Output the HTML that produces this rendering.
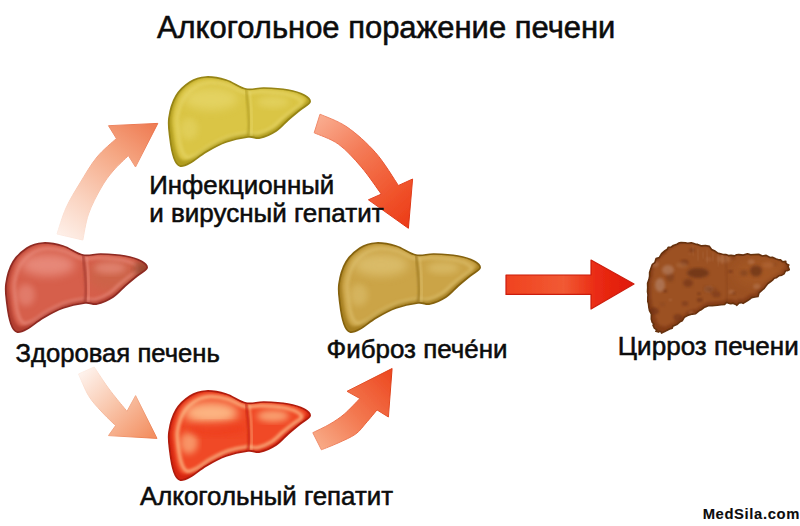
<!DOCTYPE html>
<html lang="ru"><head><meta charset="utf-8"><title>Алкогольное поражение печени</title>
<style>
html,body{margin:0;padding:0;background:#fff;}
body{width:800px;height:526px;overflow:hidden;}
svg{display:block;}
text{font-family:"Liberation Sans",Arial,sans-serif;fill:#0c0c0c;stroke:#0c0c0c;stroke-width:0.55px;}
</style></head><body>
<svg width="800" height="526" viewBox="0 0 800 526">
<defs>
<filter id="b03" x="-10%" y="-10%" width="120%" height="120%"><feGaussianBlur stdDeviation="0.35"/></filter>
<filter id="b05" x="-10%" y="-10%" width="120%" height="120%"><feGaussianBlur stdDeviation="0.5"/></filter>
<filter id="b15" x="-20%" y="-20%" width="140%" height="140%"><feGaussianBlur stdDeviation="1.5"/></filter>
<filter id="b1" x="-20%" y="-20%" width="140%" height="140%"><feGaussianBlur stdDeviation="0.9"/></filter>
<filter id="b2" x="-40%" y="-40%" width="180%" height="180%"><feGaussianBlur stdDeviation="2"/></filter>
<filter id="b3" x="-20%" y="-20%" width="140%" height="140%"><feGaussianBlur stdDeviation="3"/></filter>
<filter id="b6" x="-50%" y="-50%" width="200%" height="200%"><feGaussianBlur stdDeviation="5"/></filter>
<filter id="b8" x="-50%" y="-50%" width="200%" height="200%"><feGaussianBlur stdDeviation="8"/></filter>
<clipPath id="lc"><path d="M0.0,41.0 C1.0,34.0 3.5,25.0 7.0,19.0 C10.5,13.0 16.0,8.2 21.0,5.0 C26.0,1.8 31.0,0.3 37.0,0.0 C43.0,-0.3 50.3,1.0 57.0,3.0 C63.7,5.0 70.7,10.7 77.0,12.0 C83.3,13.3 88.0,10.8 95.0,11.0 C102.0,11.2 112.3,11.8 119.0,13.0 C125.7,14.2 131.3,16.0 135.0,18.0 C138.7,20.0 141.7,22.5 141.0,25.0 C140.3,27.5 134.7,30.0 131.0,33.0 C127.3,36.0 123.0,39.5 119.0,43.0 C115.0,46.5 111.7,51.0 107.0,54.0 C102.3,57.0 95.7,60.0 91.0,61.0 C86.3,62.0 84.7,59.3 79.0,60.0 C73.3,60.7 64.0,62.5 57.0,65.0 C50.0,67.5 43.0,71.5 37.0,75.0 C31.0,78.5 25.3,83.7 21.0,86.0 C16.7,88.3 13.7,89.8 11.0,89.0 C8.3,88.2 6.7,85.7 5.0,81.0 C3.3,76.3 1.8,67.7 1.0,61.0 C0.2,54.3 -1.0,48.0 0.0,41.0Z"/></clipPath>
<clipPath id="cc"><path d="M-0.4,40.2 L1.0,36.4 L1.6,33.2 L1.6,29.6 L2.8,25.7 L4.4,21.3 L6.8,19.7 L8.1,15.5 L11.4,14.4 L13.6,10.7 L17.0,7.7 L19.3,6.3 L20.2,4.2 L23.1,4.2 L25.3,2.5 L28.9,1.2 L31.4,-0.2 L33.1,-0.4 L37.4,-0.2 L39.7,0.2 L43.3,-0.3 L47.4,1.1 L49.6,1.4 L53.7,2.9 L57.5,2.5 L61.4,3.4 L63.6,6.5 L66.4,7.7 L69.5,9.9 L74.4,11.2 L77.8,11.6 L80.5,12.6 L83.1,12.2 L86.5,12.9 L88.6,11.8 L90.7,11.6 L95.3,12.1 L99.5,10.7 L102.6,11.7 L106.1,11.5 L110.6,11.2 L114.4,13.0 L118.2,12.4 L122.0,14.5 L124.4,14.3 L128.2,16.0 L131.4,16.9 L132.5,16.8 L134.7,18.8 L137.8,18.3 L137.6,19.6 L139.0,21.3 L140.8,22.0 L140.0,23.6 L140.7,25.1 L141.3,26.7 L139.0,27.8 L137.5,27.8 L136.0,30.8 L133.8,32.2 L130.8,32.8 L128.2,34.8 L126.2,35.2 L124.5,37.1 L122.7,38.5 L119.9,40.5 L118.1,42.7 L116.0,45.6 L115.4,46.0 L112.7,48.4 L111.0,49.8 L110.0,53.5 L106.9,54.0 L103.6,54.6 L101.5,56.4 L99.7,57.5 L95.1,60.4 L93.5,59.6 L91.1,60.0 L88.9,62.3 L87.9,61.5 L84.8,60.3 L82.9,60.8 L81.6,60.5 L78.6,59.4 L76.6,61.5 L73.1,61.7 L69.2,62.3 L64.0,62.8 L60.3,62.8 L56.0,64.5 L53.0,66.8 L51.0,67.8 L47.6,70.7 L44.3,71.1 L39.5,72.6 L36.3,74.3 L34.3,77.7 L31.9,78.8 L28.7,81.6 L24.8,83.2 L24.2,85.2 L21.6,86.0 L18.2,87.7 L16.7,88.7 L16.4,88.5 L13.6,90.1 L12.9,88.5 L10.2,88.2 L10.6,89.1 L7.9,88.3 L8.7,86.8 L6.4,85.1 L5.0,82.1 L6.0,81.3 L4.2,79.3 L3.3,76.0 L3.4,71.1 L1.5,67.7 L0.9,64.7 L0.5,60.8 L-0.2,58.6 L-0.2,54.3 L-0.0,52.0 L-0.5,48.7 L-0.3,44.5Z"/></clipPath>
<linearGradient id="a1" gradientUnits="userSpaceOnUse" x1="65" y1="240" x2="150" y2="125"><stop offset="0" stop-color="#fef0e9"/><stop offset="0.3" stop-color="#fad3c0"/><stop offset="0.7" stop-color="#f5a682"/><stop offset="1" stop-color="#ef7e56"/></linearGradient><linearGradient id="a1s" gradientUnits="userSpaceOnUse" x1="65" y1="240" x2="150" y2="125"><stop offset="0" stop-color="#fdece4"/><stop offset="0.4" stop-color="#f7c4ac"/><stop offset="1" stop-color="#ea7048"/></linearGradient><linearGradient id="a2" gradientUnits="userSpaceOnUse" x1="318" y1="120" x2="408" y2="225"><stop offset="0" stop-color="#f9ab8e"/><stop offset="0.35" stop-color="#f47c58"/><stop offset="0.75" stop-color="#f0542c"/><stop offset="1" stop-color="#ec3c18"/></linearGradient><linearGradient id="a2s" gradientUnits="userSpaceOnUse" x1="318" y1="120" x2="408" y2="225"><stop offset="0" stop-color="#f08c6c"/><stop offset="0.5" stop-color="#e85430"/><stop offset="1" stop-color="#dc3010"/></linearGradient><linearGradient id="a3" gradientUnits="userSpaceOnUse" x1="85" y1="370" x2="150" y2="437"><stop offset="0" stop-color="#fef2ec"/><stop offset="0.45" stop-color="#f9c8ae"/><stop offset="1" stop-color="#f39062"/></linearGradient><linearGradient id="a3s" gradientUnits="userSpaceOnUse" x1="85" y1="370" x2="150" y2="437"><stop offset="0" stop-color="#fdeee6"/><stop offset="0.5" stop-color="#f5b698"/><stop offset="1" stop-color="#ec8052"/></linearGradient><linearGradient id="a4" gradientUnits="userSpaceOnUse" x1="315" y1="442" x2="390" y2="372"><stop offset="0" stop-color="#f8aa86"/><stop offset="0.45" stop-color="#f37a52"/><stop offset="1" stop-color="#ed4a22"/></linearGradient><linearGradient id="a4s" gradientUnits="userSpaceOnUse" x1="315" y1="442" x2="390" y2="372"><stop offset="0" stop-color="#f09070"/><stop offset="0.5" stop-color="#e86038"/><stop offset="1" stop-color="#dc3a14"/></linearGradient><linearGradient id="a5" gradientUnits="userSpaceOnUse" x1="506" y1="0" x2="634" y2="0"><stop offset="0" stop-color="#f0421f"/><stop offset="0.45" stop-color="#f15a34"/><stop offset="0.7" stop-color="#ea2c14"/><stop offset="1" stop-color="#e01808"/></linearGradient>
</defs>
<rect width="800" height="526" fill="#ffffff"/>
<path d="M57.0,234.0 C58.5,229.7 62.2,216.5 66.0,208.0 C69.8,199.5 74.8,191.5 80.0,183.0 C85.2,174.5 90.9,164.4 97.0,157.0 C103.1,149.6 113.2,141.6 116.4,138.5 L108.5,125.7 L157.8,123.4 L135.5,167.0 L128.4,155.6 C125.8,158.2 117.6,165.6 113.0,171.0 C108.4,176.4 105.1,180.8 101.0,188.0 C96.9,195.2 91.5,205.3 88.5,214.0 C85.5,222.7 83.8,235.7 82.8,240.0Z" fill="url(#a1)" stroke="url(#a1s)" stroke-width="1" stroke-linejoin="round" filter="url(#b05)"/><path d="M320.0,114.2 C324.5,116.3 337.7,120.6 347.0,127.0 C356.3,133.4 367.0,142.9 375.6,152.7 C384.2,162.4 394.6,180.0 398.4,185.5 L412.6,179.0 L408.4,228.3 L368.4,199.8 L381.3,194.1 C378.0,189.6 368.4,175.3 361.3,167.0 C354.2,158.7 346.4,149.9 338.5,144.2 C330.6,138.5 318.2,134.7 314.2,132.8Z" fill="url(#a2)" stroke="url(#a2s)" stroke-width="1" stroke-linejoin="round" filter="url(#b05)"/><path d="M94.2,367.0 C96.1,369.9 102.0,379.0 105.6,384.2 C109.2,389.4 112.4,393.5 116.0,398.0 C119.6,402.5 125.2,409.1 127.0,411.3 L135.6,395.6 L157.0,438.4 L108.5,435.6 L115.6,425.6 C113.2,423.2 105.5,416.0 101.0,411.0 C96.5,406.0 92.2,401.8 88.5,395.6 C84.8,389.4 80.2,377.6 78.5,374.0Z" fill="url(#a3)" stroke="url(#a3s)" stroke-width="1" stroke-linejoin="round" filter="url(#b05)"/><path d="M312.8,432.7 C315.7,431.2 324.8,427.1 330.0,424.0 C335.2,420.9 339.2,418.4 344.2,414.2 C349.2,409.9 357.3,401.1 359.9,398.5 L347.0,391.3 L392.1,368.5 L388.4,417.0 L377.0,409.9 C375.2,412.1 369.6,419.0 366.0,423.0 C362.4,427.0 360.3,430.8 355.6,434.1 C350.9,437.4 343.7,440.4 338.0,443.0 C332.3,445.6 324.2,448.7 321.4,449.8Z" fill="url(#a4)" stroke="url(#a4s)" stroke-width="1" stroke-linejoin="round" filter="url(#b05)"/><path d="M506,275 L591,275 L591,260 L634,284 L591,309 L591,294.4 L506,294.4Z" fill="url(#a5)" stroke="#cc1c0c" stroke-width="1.2" stroke-linejoin="round" filter="url(#b05)"/><g transform="translate(169,77)"><path d="M0.0,41.0 C1.0,34.0 3.5,25.0 7.0,19.0 C10.5,13.0 16.0,8.2 21.0,5.0 C26.0,1.8 31.0,0.3 37.0,0.0 C43.0,-0.3 50.3,1.0 57.0,3.0 C63.7,5.0 70.7,10.7 77.0,12.0 C83.3,13.3 88.0,10.8 95.0,11.0 C102.0,11.2 112.3,11.8 119.0,13.0 C125.7,14.2 131.3,16.0 135.0,18.0 C138.7,20.0 141.7,22.5 141.0,25.0 C140.3,27.5 134.7,30.0 131.0,33.0 C127.3,36.0 123.0,39.5 119.0,43.0 C115.0,46.5 111.7,51.0 107.0,54.0 C102.3,57.0 95.7,60.0 91.0,61.0 C86.3,62.0 84.7,59.3 79.0,60.0 C73.3,60.7 64.0,62.5 57.0,65.0 C50.0,67.5 43.0,71.5 37.0,75.0 C31.0,78.5 25.3,83.7 21.0,86.0 C16.7,88.3 13.7,89.8 11.0,89.0 C8.3,88.2 6.7,85.7 5.0,81.0 C3.3,76.3 1.8,67.7 1.0,61.0 C0.2,54.3 -1.0,48.0 0.0,41.0Z" fill="#b09c1e"/><g clip-path="url(#lc)"><path d="M0.0,41.0 C1.0,34.0 3.5,25.0 7.0,19.0 C10.5,13.0 16.0,8.2 21.0,5.0 C26.0,1.8 31.0,0.3 37.0,0.0 C43.0,-0.3 50.3,1.0 57.0,3.0 C63.7,5.0 70.7,10.7 77.0,12.0 C83.3,13.3 88.0,10.8 95.0,11.0 C102.0,11.2 112.3,11.8 119.0,13.0 C125.7,14.2 131.3,16.0 135.0,18.0 C138.7,20.0 141.7,22.5 141.0,25.0 C140.3,27.5 134.7,30.0 131.0,33.0 C127.3,36.0 123.0,39.5 119.0,43.0 C115.0,46.5 111.7,51.0 107.0,54.0 C102.3,57.0 95.7,60.0 91.0,61.0 C86.3,62.0 84.7,59.3 79.0,60.0 C73.3,60.7 64.0,62.5 57.0,65.0 C50.0,67.5 43.0,71.5 37.0,75.0 C31.0,78.5 25.3,83.7 21.0,86.0 C16.7,88.3 13.7,89.8 11.0,89.0 C8.3,88.2 6.7,85.7 5.0,81.0 C3.3,76.3 1.8,67.7 1.0,61.0 C0.2,54.3 -1.0,48.0 0.0,41.0Z" fill="#dac544" transform="translate(3.2,0.5) scale(0.955,0.93)" filter="url(#b15)"/><path d="M0.0,41.0 C1.0,34.0 3.5,25.0 7.0,19.0 C10.5,13.0 16.0,8.2 21.0,5.0 C26.0,1.8 31.0,0.3 37.0,0.0 C43.0,-0.3 50.3,1.0 57.0,3.0 C63.7,5.0 70.7,10.7 77.0,12.0 C83.3,13.3 88.0,10.8 95.0,11.0 C102.0,11.2 112.3,11.8 119.0,13.0 C125.7,14.2 131.3,16.0 135.0,18.0 C138.7,20.0 141.7,22.5 141.0,25.0 C140.3,27.5 134.7,30.0 131.0,33.0 C127.3,36.0 123.0,39.5 119.0,43.0 C115.0,46.5 111.7,51.0 107.0,54.0 C102.3,57.0 95.7,60.0 91.0,61.0 C86.3,62.0 84.7,59.3 79.0,60.0 C73.3,60.7 64.0,62.5 57.0,65.0 C50.0,67.5 43.0,71.5 37.0,75.0 C31.0,78.5 25.3,83.7 21.0,86.0 C16.7,88.3 13.7,89.8 11.0,89.0 C8.3,88.2 6.7,85.7 5.0,81.0 C3.3,76.3 1.8,67.7 1.0,61.0 C0.2,54.3 -1.0,48.0 0.0,41.0Z" fill="none" stroke="#eadb74" stroke-width="4" transform="translate(8.5,5.5) scale(0.88,0.84)" filter="url(#b2)" opacity="0.5"/><ellipse cx="42" cy="22" rx="27" ry="11" fill="#eadb74" filter="url(#b6)" opacity="0.6"/><ellipse cx="20" cy="52" rx="9" ry="11" fill="#eadb74" filter="url(#b3)" opacity="0.42"/><ellipse cx="104" cy="25" rx="16" ry="6" fill="#eadb74" filter="url(#b3)" opacity="0.48"/><path d="M77.0,12.0 C77.3,15.0 78.5,24.0 79.0,30.0 C79.5,36.0 80.0,43.0 80.0,48.0 C80.0,53.0 79.2,58.0 79.0,60.0" fill="none" stroke="#eadb74" stroke-width="2.5" transform="translate(3,0)" filter="url(#b1)" opacity="0.5"/><path d="M77.0,12.0 C77.3,15.0 78.5,24.0 79.0,30.0 C79.5,36.0 80.0,43.0 80.0,48.0 C80.0,53.0 79.2,58.0 79.0,60.0" fill="none" stroke="#a8941e" stroke-width="2" filter="url(#b1)" opacity="0.8"/></g><path d="M0.0,41.0 C1.0,34.0 3.5,25.0 7.0,19.0 C10.5,13.0 16.0,8.2 21.0,5.0 C26.0,1.8 31.0,0.3 37.0,0.0 C43.0,-0.3 50.3,1.0 57.0,3.0 C63.7,5.0 70.7,10.7 77.0,12.0 C83.3,13.3 88.0,10.8 95.0,11.0 C102.0,11.2 112.3,11.8 119.0,13.0 C125.7,14.2 131.3,16.0 135.0,18.0 C138.7,20.0 141.7,22.5 141.0,25.0 C140.3,27.5 134.7,30.0 131.0,33.0 C127.3,36.0 123.0,39.5 119.0,43.0 C115.0,46.5 111.7,51.0 107.0,54.0 C102.3,57.0 95.7,60.0 91.0,61.0 C86.3,62.0 84.7,59.3 79.0,60.0 C73.3,60.7 64.0,62.5 57.0,65.0 C50.0,67.5 43.0,71.5 37.0,75.0 C31.0,78.5 25.3,83.7 21.0,86.0 C16.7,88.3 13.7,89.8 11.0,89.0 C8.3,88.2 6.7,85.7 5.0,81.0 C3.3,76.3 1.8,67.7 1.0,61.0 C0.2,54.3 -1.0,48.0 0.0,41.0Z" fill="none" stroke="#968414" stroke-width="1.7" filter="url(#b03)"/></g><g transform="translate(6,243)"><path d="M0.0,41.0 C1.0,34.0 3.5,25.0 7.0,19.0 C10.5,13.0 16.0,8.2 21.0,5.0 C26.0,1.8 31.0,0.3 37.0,0.0 C43.0,-0.3 50.3,1.0 57.0,3.0 C63.7,5.0 70.7,10.7 77.0,12.0 C83.3,13.3 88.0,10.8 95.0,11.0 C102.0,11.2 112.3,11.8 119.0,13.0 C125.7,14.2 131.3,16.0 135.0,18.0 C138.7,20.0 141.7,22.5 141.0,25.0 C140.3,27.5 134.7,30.0 131.0,33.0 C127.3,36.0 123.0,39.5 119.0,43.0 C115.0,46.5 111.7,51.0 107.0,54.0 C102.3,57.0 95.7,60.0 91.0,61.0 C86.3,62.0 84.7,59.3 79.0,60.0 C73.3,60.7 64.0,62.5 57.0,65.0 C50.0,67.5 43.0,71.5 37.0,75.0 C31.0,78.5 25.3,83.7 21.0,86.0 C16.7,88.3 13.7,89.8 11.0,89.0 C8.3,88.2 6.7,85.7 5.0,81.0 C3.3,76.3 1.8,67.7 1.0,61.0 C0.2,54.3 -1.0,48.0 0.0,41.0Z" fill="#b23e30"/><g clip-path="url(#lc)"><path d="M0.0,41.0 C1.0,34.0 3.5,25.0 7.0,19.0 C10.5,13.0 16.0,8.2 21.0,5.0 C26.0,1.8 31.0,0.3 37.0,0.0 C43.0,-0.3 50.3,1.0 57.0,3.0 C63.7,5.0 70.7,10.7 77.0,12.0 C83.3,13.3 88.0,10.8 95.0,11.0 C102.0,11.2 112.3,11.8 119.0,13.0 C125.7,14.2 131.3,16.0 135.0,18.0 C138.7,20.0 141.7,22.5 141.0,25.0 C140.3,27.5 134.7,30.0 131.0,33.0 C127.3,36.0 123.0,39.5 119.0,43.0 C115.0,46.5 111.7,51.0 107.0,54.0 C102.3,57.0 95.7,60.0 91.0,61.0 C86.3,62.0 84.7,59.3 79.0,60.0 C73.3,60.7 64.0,62.5 57.0,65.0 C50.0,67.5 43.0,71.5 37.0,75.0 C31.0,78.5 25.3,83.7 21.0,86.0 C16.7,88.3 13.7,89.8 11.0,89.0 C8.3,88.2 6.7,85.7 5.0,81.0 C3.3,76.3 1.8,67.7 1.0,61.0 C0.2,54.3 -1.0,48.0 0.0,41.0Z" fill="#d65e4c" transform="translate(3.2,0.5) scale(0.955,0.93)" filter="url(#b15)"/><ellipse cx="108" cy="32" rx="26" ry="16" fill="#c66646" filter="url(#b6)" opacity="0.55"/><path d="M0.0,41.0 C1.0,34.0 3.5,25.0 7.0,19.0 C10.5,13.0 16.0,8.2 21.0,5.0 C26.0,1.8 31.0,0.3 37.0,0.0 C43.0,-0.3 50.3,1.0 57.0,3.0 C63.7,5.0 70.7,10.7 77.0,12.0 C83.3,13.3 88.0,10.8 95.0,11.0 C102.0,11.2 112.3,11.8 119.0,13.0 C125.7,14.2 131.3,16.0 135.0,18.0 C138.7,20.0 141.7,22.5 141.0,25.0 C140.3,27.5 134.7,30.0 131.0,33.0 C127.3,36.0 123.0,39.5 119.0,43.0 C115.0,46.5 111.7,51.0 107.0,54.0 C102.3,57.0 95.7,60.0 91.0,61.0 C86.3,62.0 84.7,59.3 79.0,60.0 C73.3,60.7 64.0,62.5 57.0,65.0 C50.0,67.5 43.0,71.5 37.0,75.0 C31.0,78.5 25.3,83.7 21.0,86.0 C16.7,88.3 13.7,89.8 11.0,89.0 C8.3,88.2 6.7,85.7 5.0,81.0 C3.3,76.3 1.8,67.7 1.0,61.0 C0.2,54.3 -1.0,48.0 0.0,41.0Z" fill="none" stroke="#ee9a8c" stroke-width="4" transform="translate(8.5,5.5) scale(0.88,0.84)" filter="url(#b2)" opacity="0.5"/><ellipse cx="42" cy="22" rx="27" ry="11" fill="#ee9a8c" filter="url(#b6)" opacity="0.7"/><ellipse cx="20" cy="52" rx="9" ry="11" fill="#ee9a8c" filter="url(#b3)" opacity="0.49"/><ellipse cx="104" cy="25" rx="16" ry="6" fill="#ee9a8c" filter="url(#b3)" opacity="0.56"/><ellipse cx="136" cy="26" rx="8" ry="8" fill="#96462e" filter="url(#b3)" opacity="0.85"/><path d="M77.0,12.0 C77.3,15.0 78.5,24.0 79.0,30.0 C79.5,36.0 80.0,43.0 80.0,48.0 C80.0,53.0 79.2,58.0 79.0,60.0" fill="none" stroke="#ee9a8c" stroke-width="2.5" transform="translate(3,0)" filter="url(#b1)" opacity="0.5"/><path d="M77.0,12.0 C77.3,15.0 78.5,24.0 79.0,30.0 C79.5,36.0 80.0,43.0 80.0,48.0 C80.0,53.0 79.2,58.0 79.0,60.0" fill="none" stroke="#a2382e" stroke-width="2" filter="url(#b1)" opacity="1.0"/></g><path d="M0.0,41.0 C1.0,34.0 3.5,25.0 7.0,19.0 C10.5,13.0 16.0,8.2 21.0,5.0 C26.0,1.8 31.0,0.3 37.0,0.0 C43.0,-0.3 50.3,1.0 57.0,3.0 C63.7,5.0 70.7,10.7 77.0,12.0 C83.3,13.3 88.0,10.8 95.0,11.0 C102.0,11.2 112.3,11.8 119.0,13.0 C125.7,14.2 131.3,16.0 135.0,18.0 C138.7,20.0 141.7,22.5 141.0,25.0 C140.3,27.5 134.7,30.0 131.0,33.0 C127.3,36.0 123.0,39.5 119.0,43.0 C115.0,46.5 111.7,51.0 107.0,54.0 C102.3,57.0 95.7,60.0 91.0,61.0 C86.3,62.0 84.7,59.3 79.0,60.0 C73.3,60.7 64.0,62.5 57.0,65.0 C50.0,67.5 43.0,71.5 37.0,75.0 C31.0,78.5 25.3,83.7 21.0,86.0 C16.7,88.3 13.7,89.8 11.0,89.0 C8.3,88.2 6.7,85.7 5.0,81.0 C3.3,76.3 1.8,67.7 1.0,61.0 C0.2,54.3 -1.0,48.0 0.0,41.0Z" fill="none" stroke="#8e2a22" stroke-width="1.7" filter="url(#b03)"/></g><g transform="translate(339,243)"><path d="M0.0,41.0 C1.0,34.0 3.5,25.0 7.0,19.0 C10.5,13.0 16.0,8.2 21.0,5.0 C26.0,1.8 31.0,0.3 37.0,0.0 C43.0,-0.3 50.3,1.0 57.0,3.0 C63.7,5.0 70.7,10.7 77.0,12.0 C83.3,13.3 88.0,10.8 95.0,11.0 C102.0,11.2 112.3,11.8 119.0,13.0 C125.7,14.2 131.3,16.0 135.0,18.0 C138.7,20.0 141.7,22.5 141.0,25.0 C140.3,27.5 134.7,30.0 131.0,33.0 C127.3,36.0 123.0,39.5 119.0,43.0 C115.0,46.5 111.7,51.0 107.0,54.0 C102.3,57.0 95.7,60.0 91.0,61.0 C86.3,62.0 84.7,59.3 79.0,60.0 C73.3,60.7 64.0,62.5 57.0,65.0 C50.0,67.5 43.0,71.5 37.0,75.0 C31.0,78.5 25.3,83.7 21.0,86.0 C16.7,88.3 13.7,89.8 11.0,89.0 C8.3,88.2 6.7,85.7 5.0,81.0 C3.3,76.3 1.8,67.7 1.0,61.0 C0.2,54.3 -1.0,48.0 0.0,41.0Z" fill="#a57e20"/><g clip-path="url(#lc)"><path d="M0.0,41.0 C1.0,34.0 3.5,25.0 7.0,19.0 C10.5,13.0 16.0,8.2 21.0,5.0 C26.0,1.8 31.0,0.3 37.0,0.0 C43.0,-0.3 50.3,1.0 57.0,3.0 C63.7,5.0 70.7,10.7 77.0,12.0 C83.3,13.3 88.0,10.8 95.0,11.0 C102.0,11.2 112.3,11.8 119.0,13.0 C125.7,14.2 131.3,16.0 135.0,18.0 C138.7,20.0 141.7,22.5 141.0,25.0 C140.3,27.5 134.7,30.0 131.0,33.0 C127.3,36.0 123.0,39.5 119.0,43.0 C115.0,46.5 111.7,51.0 107.0,54.0 C102.3,57.0 95.7,60.0 91.0,61.0 C86.3,62.0 84.7,59.3 79.0,60.0 C73.3,60.7 64.0,62.5 57.0,65.0 C50.0,67.5 43.0,71.5 37.0,75.0 C31.0,78.5 25.3,83.7 21.0,86.0 C16.7,88.3 13.7,89.8 11.0,89.0 C8.3,88.2 6.7,85.7 5.0,81.0 C3.3,76.3 1.8,67.7 1.0,61.0 C0.2,54.3 -1.0,48.0 0.0,41.0Z" fill="#cba446" transform="translate(3.2,0.5) scale(0.955,0.93)" filter="url(#b15)"/><path d="M0.0,41.0 C1.0,34.0 3.5,25.0 7.0,19.0 C10.5,13.0 16.0,8.2 21.0,5.0 C26.0,1.8 31.0,0.3 37.0,0.0 C43.0,-0.3 50.3,1.0 57.0,3.0 C63.7,5.0 70.7,10.7 77.0,12.0 C83.3,13.3 88.0,10.8 95.0,11.0 C102.0,11.2 112.3,11.8 119.0,13.0 C125.7,14.2 131.3,16.0 135.0,18.0 C138.7,20.0 141.7,22.5 141.0,25.0 C140.3,27.5 134.7,30.0 131.0,33.0 C127.3,36.0 123.0,39.5 119.0,43.0 C115.0,46.5 111.7,51.0 107.0,54.0 C102.3,57.0 95.7,60.0 91.0,61.0 C86.3,62.0 84.7,59.3 79.0,60.0 C73.3,60.7 64.0,62.5 57.0,65.0 C50.0,67.5 43.0,71.5 37.0,75.0 C31.0,78.5 25.3,83.7 21.0,86.0 C16.7,88.3 13.7,89.8 11.0,89.0 C8.3,88.2 6.7,85.7 5.0,81.0 C3.3,76.3 1.8,67.7 1.0,61.0 C0.2,54.3 -1.0,48.0 0.0,41.0Z" fill="none" stroke="#e2c87a" stroke-width="4" transform="translate(8.5,5.5) scale(0.88,0.84)" filter="url(#b2)" opacity="0.5"/><ellipse cx="42" cy="22" rx="27" ry="11" fill="#e2c87a" filter="url(#b6)" opacity="0.65"/><ellipse cx="20" cy="52" rx="9" ry="11" fill="#e2c87a" filter="url(#b3)" opacity="0.45"/><ellipse cx="104" cy="25" rx="16" ry="6" fill="#e2c87a" filter="url(#b3)" opacity="0.52"/><path d="M77.0,12.0 C77.3,15.0 78.5,24.0 79.0,30.0 C79.5,36.0 80.0,43.0 80.0,48.0 C80.0,53.0 79.2,58.0 79.0,60.0" fill="none" stroke="#e2c87a" stroke-width="2.5" transform="translate(3,0)" filter="url(#b1)" opacity="0.5"/><path d="M77.0,12.0 C77.3,15.0 78.5,24.0 79.0,30.0 C79.5,36.0 80.0,43.0 80.0,48.0 C80.0,53.0 79.2,58.0 79.0,60.0" fill="none" stroke="#9c7822" stroke-width="2" filter="url(#b1)" opacity="1.0"/></g><path d="M0.0,41.0 C1.0,34.0 3.5,25.0 7.0,19.0 C10.5,13.0 16.0,8.2 21.0,5.0 C26.0,1.8 31.0,0.3 37.0,0.0 C43.0,-0.3 50.3,1.0 57.0,3.0 C63.7,5.0 70.7,10.7 77.0,12.0 C83.3,13.3 88.0,10.8 95.0,11.0 C102.0,11.2 112.3,11.8 119.0,13.0 C125.7,14.2 131.3,16.0 135.0,18.0 C138.7,20.0 141.7,22.5 141.0,25.0 C140.3,27.5 134.7,30.0 131.0,33.0 C127.3,36.0 123.0,39.5 119.0,43.0 C115.0,46.5 111.7,51.0 107.0,54.0 C102.3,57.0 95.7,60.0 91.0,61.0 C86.3,62.0 84.7,59.3 79.0,60.0 C73.3,60.7 64.0,62.5 57.0,65.0 C50.0,67.5 43.0,71.5 37.0,75.0 C31.0,78.5 25.3,83.7 21.0,86.0 C16.7,88.3 13.7,89.8 11.0,89.0 C8.3,88.2 6.7,85.7 5.0,81.0 C3.3,76.3 1.8,67.7 1.0,61.0 C0.2,54.3 -1.0,48.0 0.0,41.0Z" fill="none" stroke="#85620f" stroke-width="1.7" filter="url(#b03)"/></g><g transform="translate(169,391)"><path d="M0.0,41.0 C1.0,34.0 3.5,25.0 7.0,19.0 C10.5,13.0 16.0,8.2 21.0,5.0 C26.0,1.8 31.0,0.3 37.0,0.0 C43.0,-0.3 50.3,1.0 57.0,3.0 C63.7,5.0 70.7,10.7 77.0,12.0 C83.3,13.3 88.0,10.8 95.0,11.0 C102.0,11.2 112.3,11.8 119.0,13.0 C125.7,14.2 131.3,16.0 135.0,18.0 C138.7,20.0 141.7,22.5 141.0,25.0 C140.3,27.5 134.7,30.0 131.0,33.0 C127.3,36.0 123.0,39.5 119.0,43.0 C115.0,46.5 111.7,51.0 107.0,54.0 C102.3,57.0 95.7,60.0 91.0,61.0 C86.3,62.0 84.7,59.3 79.0,60.0 C73.3,60.7 64.0,62.5 57.0,65.0 C50.0,67.5 43.0,71.5 37.0,75.0 C31.0,78.5 25.3,83.7 21.0,86.0 C16.7,88.3 13.7,89.8 11.0,89.0 C8.3,88.2 6.7,85.7 5.0,81.0 C3.3,76.3 1.8,67.7 1.0,61.0 C0.2,54.3 -1.0,48.0 0.0,41.0Z" fill="#d42410"/><g clip-path="url(#lc)"><path d="M0.0,41.0 C1.0,34.0 3.5,25.0 7.0,19.0 C10.5,13.0 16.0,8.2 21.0,5.0 C26.0,1.8 31.0,0.3 37.0,0.0 C43.0,-0.3 50.3,1.0 57.0,3.0 C63.7,5.0 70.7,10.7 77.0,12.0 C83.3,13.3 88.0,10.8 95.0,11.0 C102.0,11.2 112.3,11.8 119.0,13.0 C125.7,14.2 131.3,16.0 135.0,18.0 C138.7,20.0 141.7,22.5 141.0,25.0 C140.3,27.5 134.7,30.0 131.0,33.0 C127.3,36.0 123.0,39.5 119.0,43.0 C115.0,46.5 111.7,51.0 107.0,54.0 C102.3,57.0 95.7,60.0 91.0,61.0 C86.3,62.0 84.7,59.3 79.0,60.0 C73.3,60.7 64.0,62.5 57.0,65.0 C50.0,67.5 43.0,71.5 37.0,75.0 C31.0,78.5 25.3,83.7 21.0,86.0 C16.7,88.3 13.7,89.8 11.0,89.0 C8.3,88.2 6.7,85.7 5.0,81.0 C3.3,76.3 1.8,67.7 1.0,61.0 C0.2,54.3 -1.0,48.0 0.0,41.0Z" fill="#f04a26" transform="translate(3.2,0.5) scale(0.955,0.93)" filter="url(#b15)"/><path d="M0.0,41.0 C1.0,34.0 3.5,25.0 7.0,19.0 C10.5,13.0 16.0,8.2 21.0,5.0 C26.0,1.8 31.0,0.3 37.0,0.0 C43.0,-0.3 50.3,1.0 57.0,3.0 C63.7,5.0 70.7,10.7 77.0,12.0 C83.3,13.3 88.0,10.8 95.0,11.0 C102.0,11.2 112.3,11.8 119.0,13.0 C125.7,14.2 131.3,16.0 135.0,18.0 C138.7,20.0 141.7,22.5 141.0,25.0 C140.3,27.5 134.7,30.0 131.0,33.0 C127.3,36.0 123.0,39.5 119.0,43.0 C115.0,46.5 111.7,51.0 107.0,54.0 C102.3,57.0 95.7,60.0 91.0,61.0 C86.3,62.0 84.7,59.3 79.0,60.0 C73.3,60.7 64.0,62.5 57.0,65.0 C50.0,67.5 43.0,71.5 37.0,75.0 C31.0,78.5 25.3,83.7 21.0,86.0 C16.7,88.3 13.7,89.8 11.0,89.0 C8.3,88.2 6.7,85.7 5.0,81.0 C3.3,76.3 1.8,67.7 1.0,61.0 C0.2,54.3 -1.0,48.0 0.0,41.0Z" fill="none" stroke="#fdc08c" stroke-width="4" transform="translate(8.5,5.5) scale(0.88,0.84)" filter="url(#b2)" opacity="0.8"/><ellipse cx="42" cy="22" rx="27" ry="11" fill="#fdc08c" filter="url(#b6)" opacity="0.9"/><ellipse cx="20" cy="52" rx="9" ry="11" fill="#fdc08c" filter="url(#b3)" opacity="0.63"/><ellipse cx="104" cy="25" rx="16" ry="6" fill="#fdc08c" filter="url(#b3)" opacity="0.72"/><ellipse cx="48" cy="38" rx="30" ry="7" fill="#ee3c1c" filter="url(#b3)" opacity="0.7"/><path d="M77.0,12.0 C77.3,15.0 78.5,24.0 79.0,30.0 C79.5,36.0 80.0,43.0 80.0,48.0 C80.0,53.0 79.2,58.0 79.0,60.0" fill="none" stroke="#fdc08c" stroke-width="2.5" transform="translate(3,0)" filter="url(#b1)" opacity="0.5"/><path d="M77.0,12.0 C77.3,15.0 78.5,24.0 79.0,30.0 C79.5,36.0 80.0,43.0 80.0,48.0 C80.0,53.0 79.2,58.0 79.0,60.0" fill="none" stroke="#c42410" stroke-width="2" filter="url(#b1)" opacity="1.0"/></g><path d="M0.0,41.0 C1.0,34.0 3.5,25.0 7.0,19.0 C10.5,13.0 16.0,8.2 21.0,5.0 C26.0,1.8 31.0,0.3 37.0,0.0 C43.0,-0.3 50.3,1.0 57.0,3.0 C63.7,5.0 70.7,10.7 77.0,12.0 C83.3,13.3 88.0,10.8 95.0,11.0 C102.0,11.2 112.3,11.8 119.0,13.0 C125.7,14.2 131.3,16.0 135.0,18.0 C138.7,20.0 141.7,22.5 141.0,25.0 C140.3,27.5 134.7,30.0 131.0,33.0 C127.3,36.0 123.0,39.5 119.0,43.0 C115.0,46.5 111.7,51.0 107.0,54.0 C102.3,57.0 95.7,60.0 91.0,61.0 C86.3,62.0 84.7,59.3 79.0,60.0 C73.3,60.7 64.0,62.5 57.0,65.0 C50.0,67.5 43.0,71.5 37.0,75.0 C31.0,78.5 25.3,83.7 21.0,86.0 C16.7,88.3 13.7,89.8 11.0,89.0 C8.3,88.2 6.7,85.7 5.0,81.0 C3.3,76.3 1.8,67.7 1.0,61.0 C0.2,54.3 -1.0,48.0 0.0,41.0Z" fill="none" stroke="#b01c0c" stroke-width="1.7" filter="url(#b03)"/></g><g transform="translate(648,243)"><path d="M-0.4,40.2 L1.0,36.4 L1.6,33.2 L1.6,29.6 L2.8,25.7 L4.4,21.3 L6.8,19.7 L8.1,15.5 L11.4,14.4 L13.6,10.7 L17.0,7.7 L19.3,6.3 L20.2,4.2 L23.1,4.2 L25.3,2.5 L28.9,1.2 L31.4,-0.2 L33.1,-0.4 L37.4,-0.2 L39.7,0.2 L43.3,-0.3 L47.4,1.1 L49.6,1.4 L53.7,2.9 L57.5,2.5 L61.4,3.4 L63.6,6.5 L66.4,7.7 L69.5,9.9 L74.4,11.2 L77.8,11.6 L80.5,12.6 L83.1,12.2 L86.5,12.9 L88.6,11.8 L90.7,11.6 L95.3,12.1 L99.5,10.7 L102.6,11.7 L106.1,11.5 L110.6,11.2 L114.4,13.0 L118.2,12.4 L122.0,14.5 L124.4,14.3 L128.2,16.0 L131.4,16.9 L132.5,16.8 L134.7,18.8 L137.8,18.3 L137.6,19.6 L139.0,21.3 L140.8,22.0 L140.0,23.6 L140.7,25.1 L141.3,26.7 L139.0,27.8 L137.5,27.8 L136.0,30.8 L133.8,32.2 L130.8,32.8 L128.2,34.8 L126.2,35.2 L124.5,37.1 L122.7,38.5 L119.9,40.5 L118.1,42.7 L116.0,45.6 L115.4,46.0 L112.7,48.4 L111.0,49.8 L110.0,53.5 L106.9,54.0 L103.6,54.6 L101.5,56.4 L99.7,57.5 L95.1,60.4 L93.5,59.6 L91.1,60.0 L88.9,62.3 L87.9,61.5 L84.8,60.3 L82.9,60.8 L81.6,60.5 L78.6,59.4 L76.6,61.5 L73.1,61.7 L69.2,62.3 L64.0,62.8 L60.3,62.8 L56.0,64.5 L53.0,66.8 L51.0,67.8 L47.6,70.7 L44.3,71.1 L39.5,72.6 L36.3,74.3 L34.3,77.7 L31.9,78.8 L28.7,81.6 L24.8,83.2 L24.2,85.2 L21.6,86.0 L18.2,87.7 L16.7,88.7 L16.4,88.5 L13.6,90.1 L12.9,88.5 L10.2,88.2 L10.6,89.1 L7.9,88.3 L8.7,86.8 L6.4,85.1 L5.0,82.1 L6.0,81.3 L4.2,79.3 L3.3,76.0 L3.4,71.1 L1.5,67.7 L0.9,64.7 L0.5,60.8 L-0.2,58.6 L-0.2,54.3 L-0.0,52.0 L-0.5,48.7 L-0.3,44.5Z" fill="#843c16"/><g clip-path="url(#cc)"><path d="M-0.4,40.2 L1.0,36.4 L1.6,33.2 L1.6,29.6 L2.8,25.7 L4.4,21.3 L6.8,19.7 L8.1,15.5 L11.4,14.4 L13.6,10.7 L17.0,7.7 L19.3,6.3 L20.2,4.2 L23.1,4.2 L25.3,2.5 L28.9,1.2 L31.4,-0.2 L33.1,-0.4 L37.4,-0.2 L39.7,0.2 L43.3,-0.3 L47.4,1.1 L49.6,1.4 L53.7,2.9 L57.5,2.5 L61.4,3.4 L63.6,6.5 L66.4,7.7 L69.5,9.9 L74.4,11.2 L77.8,11.6 L80.5,12.6 L83.1,12.2 L86.5,12.9 L88.6,11.8 L90.7,11.6 L95.3,12.1 L99.5,10.7 L102.6,11.7 L106.1,11.5 L110.6,11.2 L114.4,13.0 L118.2,12.4 L122.0,14.5 L124.4,14.3 L128.2,16.0 L131.4,16.9 L132.5,16.8 L134.7,18.8 L137.8,18.3 L137.6,19.6 L139.0,21.3 L140.8,22.0 L140.0,23.6 L140.7,25.1 L141.3,26.7 L139.0,27.8 L137.5,27.8 L136.0,30.8 L133.8,32.2 L130.8,32.8 L128.2,34.8 L126.2,35.2 L124.5,37.1 L122.7,38.5 L119.9,40.5 L118.1,42.7 L116.0,45.6 L115.4,46.0 L112.7,48.4 L111.0,49.8 L110.0,53.5 L106.9,54.0 L103.6,54.6 L101.5,56.4 L99.7,57.5 L95.1,60.4 L93.5,59.6 L91.1,60.0 L88.9,62.3 L87.9,61.5 L84.8,60.3 L82.9,60.8 L81.6,60.5 L78.6,59.4 L76.6,61.5 L73.1,61.7 L69.2,62.3 L64.0,62.8 L60.3,62.8 L56.0,64.5 L53.0,66.8 L51.0,67.8 L47.6,70.7 L44.3,71.1 L39.5,72.6 L36.3,74.3 L34.3,77.7 L31.9,78.8 L28.7,81.6 L24.8,83.2 L24.2,85.2 L21.6,86.0 L18.2,87.7 L16.7,88.7 L16.4,88.5 L13.6,90.1 L12.9,88.5 L10.2,88.2 L10.6,89.1 L7.9,88.3 L8.7,86.8 L6.4,85.1 L5.0,82.1 L6.0,81.3 L4.2,79.3 L3.3,76.0 L3.4,71.1 L1.5,67.7 L0.9,64.7 L0.5,60.8 L-0.2,58.6 L-0.2,54.3 L-0.0,52.0 L-0.5,48.7 L-0.3,44.5Z" fill="#9c5124" transform="translate(3.2,0.5) scale(0.955,0.93)" filter="url(#b15)"/><ellipse cx="110" cy="30" rx="24" ry="14" fill="#a85c26" filter="url(#b6)" opacity="0.6"/><ellipse cx="61.2" cy="46.3" rx="4.7" ry="3.6" fill="#b87a54" opacity="0.5" filter="url(#b1)"/><ellipse cx="61.1" cy="67.6" rx="2.2" ry="1.6" fill="#8e4a24" opacity="0.5" filter="url(#b1)"/><ellipse cx="68.5" cy="51.4" rx="4.3" ry="3.2" fill="#74361a" opacity="0.5" filter="url(#b1)"/><ellipse cx="60.5" cy="16.2" rx="3.4" ry="2.5" fill="#a86238" opacity="0.5" filter="url(#b1)"/><ellipse cx="83.4" cy="48.9" rx="2.9" ry="2.2" fill="#b87a54" opacity="0.5" filter="url(#b1)"/><ellipse cx="85.8" cy="50.3" rx="2.1" ry="1.5" fill="#74361a" opacity="0.5" filter="url(#b1)"/><ellipse cx="107.5" cy="10.5" rx="1.6" ry="1.2" fill="#84401e" opacity="0.5" filter="url(#b1)"/><ellipse cx="79.2" cy="62.0" rx="2.6" ry="2.0" fill="#6a2e14" opacity="0.5" filter="url(#b1)"/><ellipse cx="108.8" cy="43.4" rx="3.7" ry="2.8" fill="#b87a54" opacity="0.5" filter="url(#b1)"/><ellipse cx="6.6" cy="12.1" rx="3.8" ry="2.8" fill="#b87a54" opacity="0.5" filter="url(#b1)"/><ellipse cx="127.7" cy="77.7" rx="4.4" ry="3.3" fill="#a86238" opacity="0.5" filter="url(#b1)"/><ellipse cx="37.0" cy="60.6" rx="3.3" ry="2.5" fill="#74361a" opacity="0.5" filter="url(#b1)"/><ellipse cx="14.6" cy="61.2" rx="2.9" ry="2.2" fill="#8e4a24" opacity="0.5" filter="url(#b1)"/><ellipse cx="41.5" cy="10.8" rx="1.6" ry="1.2" fill="#a86238" opacity="0.5" filter="url(#b1)"/><ellipse cx="6.1" cy="21.1" rx="4.7" ry="3.5" fill="#b87a54" opacity="0.5" filter="url(#b1)"/><ellipse cx="51.8" cy="57.0" rx="3.0" ry="2.2" fill="#6a2e14" opacity="0.5" filter="url(#b1)"/><ellipse cx="82.8" cy="62.1" rx="2.4" ry="1.8" fill="#74361a" opacity="0.5" filter="url(#b1)"/><ellipse cx="44.0" cy="7.1" rx="2.9" ry="2.2" fill="#74361a" opacity="0.5" filter="url(#b1)"/><ellipse cx="22.4" cy="56.9" rx="1.5" ry="1.2" fill="#b87a54" opacity="0.5" filter="url(#b1)"/><ellipse cx="103.2" cy="18.8" rx="3.5" ry="2.6" fill="#b87a54" opacity="0.5" filter="url(#b1)"/><ellipse cx="68.1" cy="76.9" rx="4.2" ry="3.1" fill="#b87a54" opacity="0.5" filter="url(#b1)"/><ellipse cx="84.5" cy="14.4" rx="3.0" ry="2.2" fill="#84401e" opacity="0.5" filter="url(#b1)"/><ellipse cx="6.1" cy="68.2" rx="4.9" ry="3.7" fill="#6a2e14" opacity="0.5" filter="url(#b1)"/><ellipse cx="43.1" cy="69.7" rx="2.2" ry="1.7" fill="#b87a54" opacity="0.5" filter="url(#b1)"/><ellipse cx="127.5" cy="49.3" rx="3.5" ry="2.6" fill="#74361a" opacity="0.5" filter="url(#b1)"/><ellipse cx="126.7" cy="21.4" rx="2.4" ry="1.8" fill="#8e4a24" opacity="0.5" filter="url(#b1)"/><ellipse cx="80.5" cy="65.8" rx="2.9" ry="2.1" fill="#74361a" opacity="0.5" filter="url(#b1)"/><ellipse cx="17.0" cy="48.0" rx="2.4" ry="1.8" fill="#6a2e14" opacity="0.5" filter="url(#b1)"/><ellipse cx="51.0" cy="50.8" rx="1.9" ry="1.5" fill="#6a2e14" opacity="0.5" filter="url(#b1)"/><ellipse cx="65.0" cy="47.4" rx="4.5" ry="3.4" fill="#84401e" opacity="0.5" filter="url(#b1)"/><ellipse cx="82.5" cy="28.4" rx="2.3" ry="1.7" fill="#6a2e14" opacity="0.5" filter="url(#b1)"/><ellipse cx="36.4" cy="19.7" rx="4.1" ry="3.1" fill="#6a2e14" opacity="0.5" filter="url(#b1)"/><ellipse cx="30.0" cy="74.4" rx="4.6" ry="3.4" fill="#6a2e14" opacity="0.5" filter="url(#b1)"/><ellipse cx="15.6" cy="9.4" rx="1.9" ry="1.4" fill="#6a2e14" opacity="0.5" filter="url(#b1)"/><ellipse cx="50" cy="30" rx="11" ry="5" fill="#683016" opacity="0.75" filter="url(#b15)"/><ellipse cx="108" cy="28" rx="6" ry="5.5" fill="#683016" opacity="0.7" filter="url(#b15)"/><ellipse cx="40" cy="40" rx="5" ry="4" fill="#6e3218" opacity="0.6" filter="url(#b15)"/><ellipse cx="22" cy="34" rx="4" ry="5" fill="#743a1c" opacity="0.5" filter="url(#b15)"/><ellipse cx="96" cy="30" rx="4" ry="3" fill="#743a1c" opacity="0.5" filter="url(#b15)"/><ellipse cx="60" cy="46" rx="4" ry="3" fill="#743a1c" opacity="0.5" filter="url(#b15)"/><ellipse cx="20" cy="27" rx="6" ry="5" fill="#b88468" opacity="0.6" filter="url(#b15)"/><ellipse cx="12" cy="42" rx="5" ry="7" fill="#b88870" opacity="0.6" filter="url(#b15)"/><ellipse cx="76" cy="16" rx="7" ry="4" fill="#b67850" opacity="0.5" filter="url(#b15)"/><ellipse cx="34" cy="22" rx="6" ry="3" fill="#b47448" opacity="0.45" filter="url(#b15)"/><ellipse cx="120" cy="22" rx="6" ry="3" fill="#b66c3c" opacity="0.5" filter="url(#b15)"/><path d="M45,3.0 L45.8,13.0" stroke="#b87c54" stroke-width="1.3" opacity="0.38" filter="url(#b1)"/><path d="M49.5,5.8 L50.3,17.9" stroke="#b87c54" stroke-width="1.3" opacity="0.38" filter="url(#b1)"/><path d="M55,8.6 L55.8,15.8" stroke="#b87c54" stroke-width="1.3" opacity="0.38" filter="url(#b1)"/><path d="M59,6.4 L59.8,20.7" stroke="#b87c54" stroke-width="1.3" opacity="0.38" filter="url(#b1)"/><path d="M64.5,9.2 L65.3,18.6" stroke="#b87c54" stroke-width="1.3" opacity="0.38" filter="url(#b1)"/><path d="M70,7.0 L70.8,23.5" stroke="#b87c54" stroke-width="1.3" opacity="0.38" filter="url(#b1)"/><path d="M74,9.8 L74.8,21.4" stroke="#b87c54" stroke-width="1.3" opacity="0.38" filter="url(#b1)"/><path d="M77,12 C79,28 80,46 79,60" fill="none" stroke="#7c3a1a" stroke-width="1.6" opacity="0.35" filter="url(#b1)"/></g><path d="M-0.4,40.2 L1.0,36.4 L1.6,33.2 L1.6,29.6 L2.8,25.7 L4.4,21.3 L6.8,19.7 L8.1,15.5 L11.4,14.4 L13.6,10.7 L17.0,7.7 L19.3,6.3 L20.2,4.2 L23.1,4.2 L25.3,2.5 L28.9,1.2 L31.4,-0.2 L33.1,-0.4 L37.4,-0.2 L39.7,0.2 L43.3,-0.3 L47.4,1.1 L49.6,1.4 L53.7,2.9 L57.5,2.5 L61.4,3.4 L63.6,6.5 L66.4,7.7 L69.5,9.9 L74.4,11.2 L77.8,11.6 L80.5,12.6 L83.1,12.2 L86.5,12.9 L88.6,11.8 L90.7,11.6 L95.3,12.1 L99.5,10.7 L102.6,11.7 L106.1,11.5 L110.6,11.2 L114.4,13.0 L118.2,12.4 L122.0,14.5 L124.4,14.3 L128.2,16.0 L131.4,16.9 L132.5,16.8 L134.7,18.8 L137.8,18.3 L137.6,19.6 L139.0,21.3 L140.8,22.0 L140.0,23.6 L140.7,25.1 L141.3,26.7 L139.0,27.8 L137.5,27.8 L136.0,30.8 L133.8,32.2 L130.8,32.8 L128.2,34.8 L126.2,35.2 L124.5,37.1 L122.7,38.5 L119.9,40.5 L118.1,42.7 L116.0,45.6 L115.4,46.0 L112.7,48.4 L111.0,49.8 L110.0,53.5 L106.9,54.0 L103.6,54.6 L101.5,56.4 L99.7,57.5 L95.1,60.4 L93.5,59.6 L91.1,60.0 L88.9,62.3 L87.9,61.5 L84.8,60.3 L82.9,60.8 L81.6,60.5 L78.6,59.4 L76.6,61.5 L73.1,61.7 L69.2,62.3 L64.0,62.8 L60.3,62.8 L56.0,64.5 L53.0,66.8 L51.0,67.8 L47.6,70.7 L44.3,71.1 L39.5,72.6 L36.3,74.3 L34.3,77.7 L31.9,78.8 L28.7,81.6 L24.8,83.2 L24.2,85.2 L21.6,86.0 L18.2,87.7 L16.7,88.7 L16.4,88.5 L13.6,90.1 L12.9,88.5 L10.2,88.2 L10.6,89.1 L7.9,88.3 L8.7,86.8 L6.4,85.1 L5.0,82.1 L6.0,81.3 L4.2,79.3 L3.3,76.0 L3.4,71.1 L1.5,67.7 L0.9,64.7 L0.5,60.8 L-0.2,58.6 L-0.2,54.3 L-0.0,52.0 L-0.5,48.7 L-0.3,44.5Z" fill="none" stroke="#66300f" stroke-width="1.6" stroke-linejoin="round" filter="url(#b03)"/></g>
<g><text x="156.90" y="37.70" font-size="30.6" textLength="458.50" lengthAdjust="spacingAndGlyphs">Алкогольное поражение печени</text>
<text x="149.20" y="193.50" font-size="26" textLength="185.00" lengthAdjust="spacingAndGlyphs">Инфекционный</text>
<text x="149.20" y="222.10" font-size="26" textLength="234.40" lengthAdjust="spacingAndGlyphs">и вирусный гепатит</text>
<text x="15.50" y="362.40" font-size="26" textLength="204.35" lengthAdjust="spacingAndGlyphs">Здоровая печень</text>
<text x="326.50" y="358.30" font-size="26" textLength="181.00" lengthAdjust="spacingAndGlyphs">Фиброз пече́ни</text>
<text x="617.80" y="355.10" font-size="26" textLength="181.00" lengthAdjust="spacingAndGlyphs">Цирроз печени</text>
<text x="140.00" y="504.50" font-size="26" textLength="253.00" lengthAdjust="spacingAndGlyphs">Алкогольный гепатит</text>
<text x="702.65" y="518.70" font-size="14.8" textLength="96.65" font-weight="bold" lengthAdjust="spacing" style="stroke-width:0.1px">MedSila.com</text>
</g>
</svg>
</body></html>
